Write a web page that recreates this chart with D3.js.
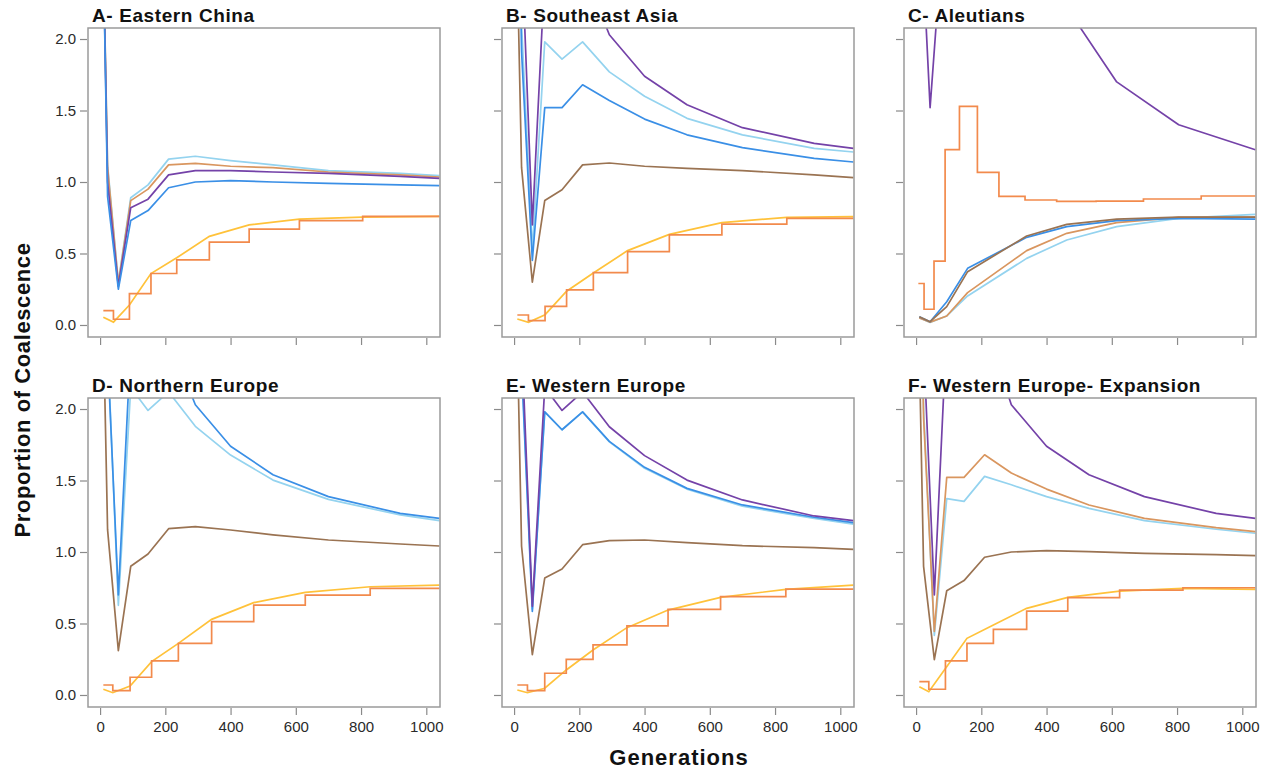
<!DOCTYPE html>
<html><head><meta charset="utf-8">
<script src="https://cdn.jsdelivr.net/npm/d3@7"></script>
<style>
html,body{margin:0;padding:0;background:#fff;}
svg{display:block;font-family:"Liberation Sans",Arial,Helvetica,sans-serif;}
</style></head>
<body><svg id="chart" width="1271" height="772"></svg>
<script>
// ---------- data ----------
const xTicks = [0, 200, 400, 600, 800, 1000];
const yTicks = [0.0, 0.5, 1.0, 1.5, 2.0];
const titles = ["A- Eastern China", "B- Southeast Asia", "C- Aleutians",
                "D- Northern Europe", "E- Western Europe", "F- Western Europe- Expansion"];
const colors = {purple:"#7442a8", lightblue:"#94d3ef", blue:"#3a8fe6", brown:"#9a7352",
                tan:"#d9965f", yellow:"#ffc23a", step:"#f28a4c"};

// generation grids
const genGrid  = [10, 23, 56, 94, 147, 210, 292, 400, 530, 700, 920, 1040];
const genGridC = [10, 43, 94, 158, 339, 462, 615, 805, 1040];

// A - Eastern China
const aLightBlue = [2.6, 1.12, 0.30, 0.89, 0.98, 1.16, 1.18, 1.15, 1.12, 1.08, 1.06, 1.045];
const aTan       = [2.6, 1.10, 0.29, 0.87, 0.95, 1.12, 1.13, 1.11, 1.10, 1.07, 1.05, 1.035];
const aPurple    = [2.6, 1.00, 0.27, 0.82, 0.88, 1.05, 1.08, 1.08, 1.07, 1.06, 1.04, 1.025];
const aBlue      = [2.6, 0.90, 0.25, 0.73, 0.80, 0.96, 1.00, 1.01, 1.00, 0.99, 0.98, 0.975];
const aStepGen   = [10, 41, 90, 156, 235, 335, 457, 611, 805, 1040];
const aStep      = [0.10, 0.04, 0.22, 0.36, 0.455, 0.58, 0.67, 0.73, 0.76];
const aYellow    = [0.054, 0.02, 0.14, 0.36, 0.47, 0.62, 0.70, 0.74, 0.755, 0.76];

// B - Southeast Asia
const bPurple    = [3.5, 2.66, 0.70, 2.46, 2.6, 2.5, 2.03, 1.74, 1.54, 1.38, 1.27, 1.235];
const bLightBlue = [3.5, 2.10, 0.52, 1.98, 1.86, 1.98, 1.77, 1.60, 1.445, 1.33, 1.235, 1.21];
const bBlue      = [3.5, 1.91, 0.452, 1.52, 1.52, 1.68, 1.57, 1.44, 1.33, 1.24, 1.165, 1.14];
const bBrown     = [2.5, 1.10, 0.30, 0.87, 0.946, 1.12, 1.133, 1.11, 1.095, 1.08, 1.05, 1.03];
const bStepGen   = [10, 44, 95, 161, 243, 348, 476, 637, 836, 1040];
const bStep      = [0.07, 0.03, 0.13, 0.245, 0.366, 0.513, 0.63, 0.706, 0.746];
const bYellow    = [0.042, 0.019, 0.072, 0.236, 0.364, 0.52, 0.634, 0.716, 0.753, 0.758];

// C - Aleutians
const cPurple    = [3.06, 1.52, 3.11, 3.5, 2.8, 2.22, 1.70, 1.40, 1.226];
const cBlue      = [0.058, 0.023, 0.163, 0.396, 0.613, 0.688, 0.73, 0.746, 0.74];
const cBrown     = [0.058, 0.023, 0.128, 0.373, 0.622, 0.704, 0.741, 0.755, 0.755];
const cTan       = [0.05, 0.02, 0.063, 0.226, 0.52, 0.641, 0.716, 0.753, 0.755];
const cLightBlue = [0.05, 0.018, 0.063, 0.203, 0.466, 0.594, 0.688, 0.746, 0.774];
const cStepGen   = [7, 24.5, 55, 89, 133, 188, 254, 334, 431, 552, 697, 874, 1040];
const cStep      = [0.29, 0.11, 0.447, 1.226, 1.529, 1.068, 0.90, 0.874, 0.865, 0.866, 0.881, 0.902];

// D - Northern Europe
const dLightBlue = [3.5, 2.45, 0.627, 2.15, 1.99, 2.12, 1.879, 1.678, 1.503, 1.368, 1.259, 1.219];
const dBlue      = [3.5, 2.39, 0.70, 2.45, 2.6, 2.5, 2.03, 1.74, 1.54, 1.387, 1.27, 1.235];
const dBrown     = [2.6, 1.156, 0.31, 0.90, 0.986, 1.163, 1.177, 1.154, 1.12, 1.084, 1.056, 1.042];
const dStepGen   = [10, 39, 92, 158, 240, 342, 471, 629, 828, 1040];
const dStep      = [0.07, 0.03, 0.124, 0.238, 0.361, 0.513, 0.629, 0.699, 0.746];
const dYellow    = [0.04, 0.016, 0.063, 0.233, 0.361, 0.529, 0.646, 0.718, 0.757, 0.769];

// E - Western Europe
const ePurple    = [3.5, 2.5, 0.62, 2.15, 1.99, 2.12, 1.876, 1.674, 1.503, 1.364, 1.252, 1.219];
const eLightBlue = [3.5, 2.35, 0.60, 1.98, 1.855, 1.98, 1.77, 1.585, 1.44, 1.32, 1.235, 1.195];
const eBlue      = [3.5, 2.29, 0.585, 1.98, 1.855, 1.98, 1.774, 1.592, 1.445, 1.329, 1.243, 1.205];
const eBrown     = [2.5, 1.04, 0.282, 0.818, 0.881, 1.051, 1.079, 1.084, 1.065, 1.044, 1.03, 1.019];
const eStepGen   = [10, 41, 94, 160, 242, 346, 472, 633, 833, 1040];
const eStep      = [0.07, 0.03, 0.152, 0.249, 0.35, 0.483, 0.599, 0.688, 0.741];
const eYellow    = [0.035, 0.016, 0.047, 0.175, 0.315, 0.471, 0.594, 0.683, 0.739, 0.769];

// F - Western Europe- Expansion
const fPurple    = [3.5, 2.45, 0.70, 2.57, 2.7, 2.6, 2.03, 1.74, 1.54, 1.387, 1.27, 1.235];
const fTan       = [3.5, 1.94, 0.445, 1.522, 1.522, 1.68, 1.552, 1.44, 1.329, 1.235, 1.17, 1.142];
const fLightBlue = [3.5, 2.0, 0.417, 1.373, 1.354, 1.529, 1.47, 1.387, 1.305, 1.219, 1.159, 1.131];
const fBrown     = [2.4, 0.90, 0.247, 0.729, 0.80, 0.963, 1.0, 1.009, 1.002, 0.991, 0.981, 0.974];
const fStepGen   = [10, 39, 90, 156, 237, 339, 465, 624, 818, 1040];
const fStep      = [0.093, 0.04, 0.238, 0.361, 0.459, 0.587, 0.681, 0.734, 0.75];
const fYellow    = [0.058, 0.023, 0.186, 0.396, 0.49, 0.606, 0.683, 0.727, 0.746, 0.739];

// ---------- panel table built from the arrays ----------
const panels = [
  {title:titles[0], grid:genGrid, lines:[["lightblue",aLightBlue],["tan",aTan],["purple",aPurple],["blue",aBlue]],
   stepGen:aStepGen, step:aStep, yellow:aYellow},
  {title:titles[1], grid:genGrid, lines:[["lightblue",bLightBlue],["blue",bBlue],["brown",bBrown],["purple",bPurple]],
   stepGen:bStepGen, step:bStep, yellow:bYellow},
  {title:titles[2], grid:genGridC, lines:[["lightblue",cLightBlue],["tan",cTan],["blue",cBlue],["brown",cBrown],["purple",cPurple]],
   stepGen:cStepGen, step:cStep, yellow:null},
  {title:titles[3], grid:genGrid, lines:[["lightblue",dLightBlue],["blue",dBlue],["brown",dBrown]],
   stepGen:dStepGen, step:dStep, yellow:dYellow},
  {title:titles[4], grid:genGrid, lines:[["lightblue",eLightBlue],["blue",eBlue],["purple",ePurple],["brown",eBrown]],
   stepGen:eStepGen, step:eStep, yellow:eYellow},
  {title:titles[5], grid:genGrid, lines:[["lightblue",fLightBlue],["tan",fTan],["brown",fBrown],["purple",fPurple]],
   stepGen:fStepGen, step:fStep, yellow:fYellow}
];

// ---------- drawing ----------
const svg = d3.select("#chart");
const colLeft = [88, 502, 904], rowTop = [28, 398];
const W = 352, H = 309;

const x = d3.scaleLinear().domain([-37, 1042]).range([0, W]);
const y = d3.scaleLinear().domain([-0.084, 2.077]).range([H, 0]);

panels.forEach((p, i) => {
  const col = i % 3, row = Math.floor(i / 3);
  const g = svg.append("g").attr("transform", `translate(${colLeft[col]},${rowTop[row]})`);
  const clipId = "clip" + i;
  g.append("clipPath").attr("id", clipId).append("rect").attr("x", 0).attr("y", 0).attr("width", W).attr("height", H);

  // axes (ticks outside box)
  const yAxis = d3.axisLeft(y).tickValues(yTicks).tickSize(7).tickPadding(4)
      .tickFormat(col === 0 ? d3.format(".1f") : () => "");
  const ya = g.append("g").attr("transform", "translate(-1,0)").call(yAxis);
  const xAxis = d3.axisBottom(x).tickValues(xTicks).tickSize(7).tickPadding(6)
      .tickFormat(row === 1 ? d3.format("d") : () => "");
  const xa = g.append("g").attr("transform", `translate(0,${H + 1})`).call(xAxis);
  [ya, xa].forEach(a => {
    a.select(".domain").remove();
    a.selectAll(".tick line").attr("stroke", "#8a8a8a").attr("stroke-width", 1.2);
    a.selectAll(".tick text").attr("fill", "#2a2a2a").style("font-size", "15px");
  });

  const plot = g.append("g").attr("clip-path", `url(#${clipId})`);
  const line = d3.line().x(d => x(d[0])).y(d => y(d[1]));

  if (p.yellow) {
    plot.append("path").datum(p.stepGen.map((gn, k) => [gn, p.yellow[k]]))
      .attr("d", line).attr("fill", "none").attr("stroke", colors.yellow).attr("stroke-width", 1.7);
  }
  const stepPts = p.step.map((v, k) => [p.stepGen[k], v]);
  stepPts.push([p.stepGen[p.stepGen.length - 1], p.step[p.step.length - 1]]);
  plot.append("path").datum(stepPts)
    .attr("d", d3.line().x(d => x(d[0])).y(d => y(d[1])).curve(d3.curveStepAfter))
    .attr("fill", "none").attr("stroke", colors.step).attr("stroke-width", 1.7);

  p.lines.forEach(([c, vals]) => {
    plot.append("path").datum(p.grid.map((gn, k) => [gn, vals[k]]))
      .attr("d", line).attr("fill", "none").attr("stroke", colors[c]).attr("stroke-width", 1.7)
      .attr("stroke-linejoin", "round");
  });

  // box
  g.append("rect").attr("x", 0).attr("y", 0).attr("width", W).attr("height", H)
    .attr("fill", "none").attr("stroke", "#9a9a9a").attr("stroke-width", 1.5);

  // title
  g.append("text").attr("x", 4).attr("y", -6).text(p.title)
    .style("font-size", "19px").style("font-weight", "bold").style("letter-spacing", "0.6px").attr("fill", "#111");
});

svg.append("text").attr("transform", "translate(30,390) rotate(-90)").attr("text-anchor", "middle")
  .text("Proportion of Coalescence").style("font-size", "22px").style("font-weight", "bold")
  .style("letter-spacing", "0.6px").attr("fill", "#111");
svg.append("text").attr("x", 679).attr("y", 765).attr("text-anchor", "middle")
  .text("Generations").style("font-size", "22px").style("font-weight", "bold")
  .style("letter-spacing", "1px").attr("fill", "#111");
</script></body></html>
